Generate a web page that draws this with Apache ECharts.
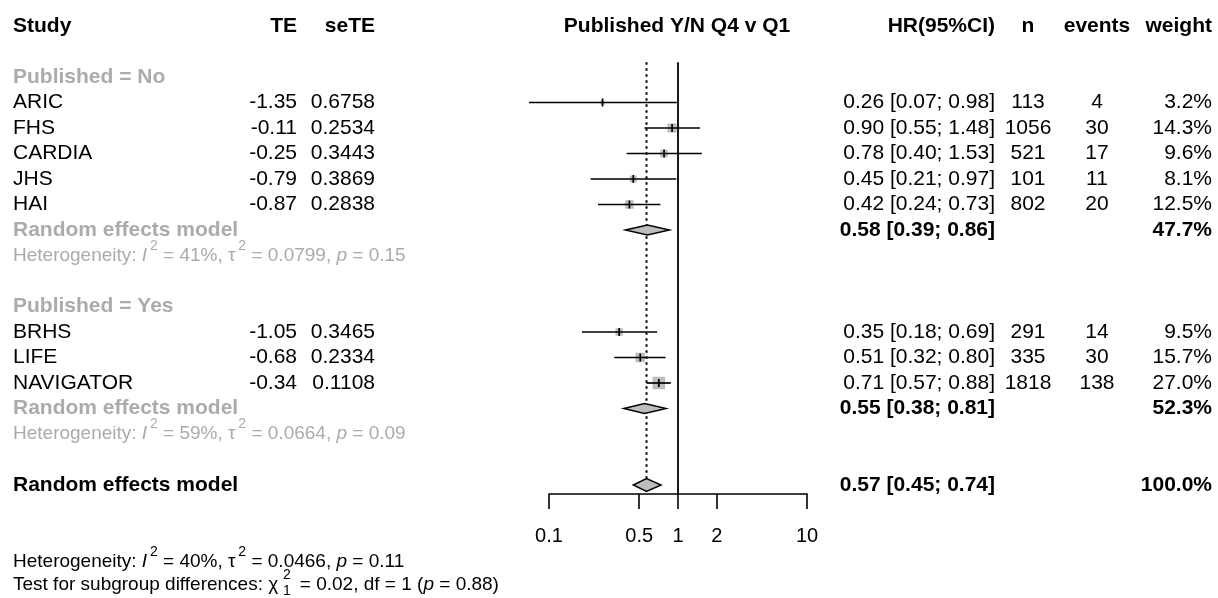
<!DOCTYPE html>
<html><head><meta charset="utf-8">
<script src="https://cdn.jsdelivr.net/npm/echarts@6/dist/echarts.min.js"></script>
<style>html,body{margin:0;padding:0;background:#fff}#c{width:1218px;height:598px}</style>
</head><body><div id="c"></div>
<script>
// ---------- data ----------
const studies = ['ARIC','FHS','CARDIA','JHS','HAI','BRHS','LIFE','NAVIGATOR'];
const studyGroup = ['No','No','No','No','No','Yes','Yes','Yes'];
const te = [-1.35,-0.11,-0.25,-0.79,-0.87,-1.05,-0.68,-0.34];
const seTE = [0.6758,0.2534,0.3443,0.3869,0.2838,0.3465,0.2334,0.1108];
const hr = [0.26,0.90,0.78,0.45,0.42,0.35,0.51,0.71];
const hrLower = [0.07,0.55,0.40,0.21,0.24,0.18,0.32,0.57];
const hrUpper = [0.98,1.48,1.53,0.97,0.73,0.69,0.80,0.88];
const nTotal = [113,1056,521,101,802,291,335,1818];
const events = [4,30,17,11,20,14,30,138];
const weight = [3.2,14.3,9.6,8.1,12.5,9.5,15.7,27.0];

const subgroups = ['No','Yes'];
const subHr = [0.58,0.55];
const subLower = [0.39,0.38];
const subUpper = [0.86,0.81];
const subWeight = [47.7,52.3];
const subI2 = ['41%','59%'];
const subTau2 = ['0.0799','0.0664'];
const subP = ['0.15','0.09'];

const overallHr = 0.57, overallLower = 0.45, overallUpper = 0.74, overallWeight = 100.0;
const overallI2 = '40%', overallTau2 = '0.0466', overallP = '0.11';
const testChi2 = '0.02', testDf = '1', testP = '0.88';

const xTicks = [0.1, 0.5, 1, 2, 10];
const headerLabels = {study:'Study', te:'TE', sete:'seTE', title:'Published Y/N Q4 v Q1', hr:'HR(95%CI)', n:'n', ev:'events', w:'weight'};
const groupLabel = 'Published = ';
const remLabel = 'Random effects model';

// ---------- layout ----------
const FONT = "'Liberation Sans', Arial, Helvetica, sans-serif";
const MAIN = 21, HET = 19, TICK = 20;
const BLACK = '#000', GREY = '#ababab', FILL = '#bdbdbd';
const W = 1218, H = 598;
const ROW_H = 25.5, HEAD_Y = 26, AXIS_Y = 494, GRID_L = 549, GRID_R = 807;
const Y_MIN = -2 - HEAD_Y / ROW_H;
const Y_MAX = Y_MIN + AXIS_Y / ROW_H;
const COL = {study:13, te:297, sete:375, hr:995, n:1028, ev:1097, w:1212, title:677};
const FOREST_TOP_ROW = -0.58;

// rows
const rows = [{type:'header', r:-2}];
const studyRow = [], subRow = [];
let r = 0;
subgroups.forEach((g, gi) => {
  rows.push({type:'group', r:r++, gi});
  studies.forEach((s, i) => { if (studyGroup[i] === g) { studyRow[i] = r; rows.push({type:'study', r:r++, i}); } });
  subRow[gi] = r;
  rows.push({type:'sub', r:r++, gi});
  rows.push({type:'het', r:r++, gi});
  r++;
});
const overallRow = r;
rows.push({type:'overall', r});

const f2 = v => v.toFixed(2);
const ci = (a, b, c) => `${f2(a)} [${f2(b)}; ${f2(c)}]`;

const mctx = document.createElement('canvas').getContext('2d');
function fontStr(size, bold, it) { return `${it ? 'italic ' : ''}${bold ? 'bold ' : ''}${size}px ${FONT}`; }
function measure(t, size, bold, it) { mctx.font = fontStr(size, bold, it); return mctx.measureText(t).width; }

function txt(x, y, t, o = {}) {
  return {type:'text', silent:true, style:{x, y, text:t, fill:o.color || BLACK, fontSize:o.size || MAIN, fontFamily:FONT,
    fontWeight:o.bold ? 'bold' : 'normal', fontStyle:o.it ? 'italic' : 'normal', align:o.align || 'left', verticalAlign:'middle'}};
}
function segLine(x, y, segs, size, color) {
  const out = []; let cx = x;
  segs.forEach(s => {
    const fs = (s.sup || s.sub) ? Math.round(size * 0.72) : size;
    const dy = s.sup ? -size * 0.5 : (s.sub ? size * 0.3 : 0);
    const px = (s.sup || s.sub) ? cx + size * (s.stack || s.sub ? 0.25 : 0.15) : cx;
    out.push(txt(px, y + dy, s.t, {size:fs, it:s.it, color}));
    if (!s.stack) cx = px + measure(s.t, fs, false, s.it) + (s.sub ? size * 0.2 : 0);
  });
  return out;
}
function hetSegs(i2, tau2, p) {
  return [{t:'Heterogeneity: '},{t:'I', it:true},{t:'2', sup:true},{t:' = ' + i2 + ', τ'},{t:'2', sup:true},
          {t:' = ' + tau2 + ', '},{t:'p', it:true},{t:' = ' + p}];
}

function renderTable(params, api) {
  const row = rows[params.dataIndex];
  const y = api.coord([1, row.r])[1];
  const c = [];
  if (row.type === 'header') {
    c.push(txt(COL.study, y, headerLabels.study, {bold:true}));
    c.push(txt(COL.te, y, headerLabels.te, {bold:true, align:'right'}));
    c.push(txt(COL.sete, y, headerLabels.sete, {bold:true, align:'right'}));
    c.push(txt(COL.title, y, headerLabels.title, {bold:true, align:'center'}));
    c.push(txt(COL.hr, y, headerLabels.hr, {bold:true, align:'right'}));
    c.push(txt(COL.n, y, headerLabels.n, {bold:true, align:'center'}));
    c.push(txt(COL.ev, y, headerLabels.ev, {bold:true, align:'center'}));
    c.push(txt(COL.w, y, headerLabels.w, {bold:true, align:'right'}));
  } else if (row.type === 'group') {
    c.push(txt(COL.study, y, groupLabel + subgroups[row.gi], {bold:true, color:GREY}));
  } else if (row.type === 'study') {
    const i = row.i;
    c.push(txt(COL.study, y, studies[i]));
    c.push(txt(COL.te, y, f2(te[i]), {align:'right'}));
    c.push(txt(COL.sete, y, seTE[i].toFixed(4), {align:'right'}));
    c.push(txt(COL.hr, y, ci(hr[i], hrLower[i], hrUpper[i]), {align:'right'}));
    c.push(txt(COL.n, y, String(nTotal[i]), {align:'center'}));
    c.push(txt(COL.ev, y, String(events[i]), {align:'center'}));
    c.push(txt(COL.w, y, weight[i].toFixed(1) + '%', {align:'right'}));
  } else if (row.type === 'sub') {
    const g = row.gi;
    c.push(txt(COL.study, y, remLabel, {bold:true, color:GREY}));
    c.push(txt(COL.hr, y, ci(subHr[g], subLower[g], subUpper[g]), {bold:true, align:'right'}));
    c.push(txt(COL.w, y, subWeight[g].toFixed(1) + '%', {bold:true, align:'right'}));
  } else if (row.type === 'het') {
    const g = row.gi;
    c.push(...segLine(COL.study, y, hetSegs(subI2[g], subTau2[g], subP[g]), HET, GREY));
  } else if (row.type === 'overall') {
    c.push(txt(COL.study, y, remLabel, {bold:true}));
    c.push(txt(COL.hr, y, ci(overallHr, overallLower, overallUpper), {bold:true, align:'right'}));
    c.push(txt(COL.w, y, overallWeight.toFixed(1) + '%', {bold:true, align:'right'}));
  }
  return {type:'group', children:c};
}

function renderStudy(params, api) {
  const v = api.value(0), lo = api.value(1), up = api.value(2), rr = api.value(3), w = api.value(4);
  const p = api.coord([v, rr]), a = api.coord([lo, rr]), b = api.coord([up, rr]);
  const s = 2.4 * Math.sqrt(w);
  return {type:'group', children:[
    {type:'rect', shape:{x:p[0] - s / 2, y:p[1] - s / 2, width:s, height:s}, style:{fill:FILL}},
    {type:'line', shape:{x1:a[0], y1:a[1], x2:b[0], y2:b[1]}, style:{stroke:BLACK, lineWidth:1.7}},
    {type:'line', shape:{x1:p[0], y1:p[1] - 4, x2:p[0], y2:p[1] + 4}, style:{stroke:BLACK, lineWidth:1.7}}
  ]};
}
function renderDiamond(params, api) {
  const v = api.value(0), lo = api.value(1), up = api.value(2), rr = api.value(3), h = api.value(4);
  const p = api.coord([v, rr]), a = api.coord([lo, rr]), b = api.coord([up, rr]);
  return {type:'polygon', shape:{points:[[a[0], a[1]], [p[0], p[1] - h], [b[0], b[1]], [p[0], p[1] + h]]},
    style:{fill:FILL, stroke:BLACK, lineWidth:1.4}};
}
function renderRef(params, api) {
  const x = api.value(0), kind = api.value(1);
  const top = api.coord([x, FOREST_TOP_ROW]);
  const bottom = kind === 1 ? api.coord([x, Y_MAX]) : [0, api.coord([x, overallRow])[1] - 7];
  return {type:'line', shape:{x1:top[0], y1:top[1], x2:top[0], y2:bottom[1]},
    style:{stroke:BLACK, lineWidth:kind === 1 ? 1.8 : 2, lineDash:kind === 1 ? null : [2.5, 3.5]}};
}

const diamondData = subgroups.map((g, gi) => [subHr[gi], subLower[gi], subUpper[gi], subRow[gi], 5])
  .concat([[overallHr, overallLower, overallUpper, overallRow, 6.5]]);

const chart = echarts.init(document.getElementById('c'), null, {renderer:'canvas'});
chart.setOption({
  animation:false,
  backgroundColor:'#fff',
  grid:{left:GRID_L, right:W - GRID_R, top:0, bottom:H - AXIS_Y, containLabel:false},
  xAxis:{type:'log', logBase:10, min:0.1, max:10, position:'bottom',
    axisLine:{show:true, onZero:false, lineStyle:{color:BLACK, width:1.6}},
    axisTick:{show:true, inside:false, length:15, customValues:xTicks, lineStyle:{color:BLACK, width:1.6}},
    axisLabel:{show:true, customValues:xTicks, margin:32, color:BLACK, fontSize:TICK, fontFamily:FONT,
      formatter:v => String(+(+v).toPrecision(4))},
    splitLine:{show:false}, minorTick:{show:false}},
  yAxis:{type:'value', inverse:true, min:Y_MIN, max:Y_MAX, show:false, splitLine:{show:false}},
  series:[
    {type:'custom', name:'ref', clip:false, silent:true, data:[[1, 1], [overallHr, 2]], encode:{x:0, y:-1}, renderItem:renderRef, z:1},
    {type:'custom', name:'studies', clip:false, silent:true,
      data:studies.map((s, i) => [hr[i], hrLower[i], hrUpper[i], studyRow[i], weight[i]]), encode:{x:0, y:3}, renderItem:renderStudy, z:2},
    {type:'custom', name:'diamonds', clip:false, silent:true, data:diamondData, encode:{x:0, y:3}, renderItem:renderDiamond, z:3},
    {type:'custom', name:'table', clip:false, silent:true, data:rows.map(row => [1, row.r]), encode:{x:0, y:1}, renderItem:renderTable, z:4}
  ],
  graphic:[{type:'group', silent:true, children:
    segLine(COL.study, 562, hetSegs(overallI2, overallTau2, overallP), HET, BLACK).concat(
    segLine(COL.study, 585, [{t:'Test for subgroup differences: χ'},{t:'2', sup:true, stack:true},{t:'1', sub:true},
      {t:' = ' + testChi2 + ', df = ' + testDf + ' ('},{t:'p', it:true},{t:' = ' + testP + ')'}], HET, BLACK))}]
});
</script></body></html>
